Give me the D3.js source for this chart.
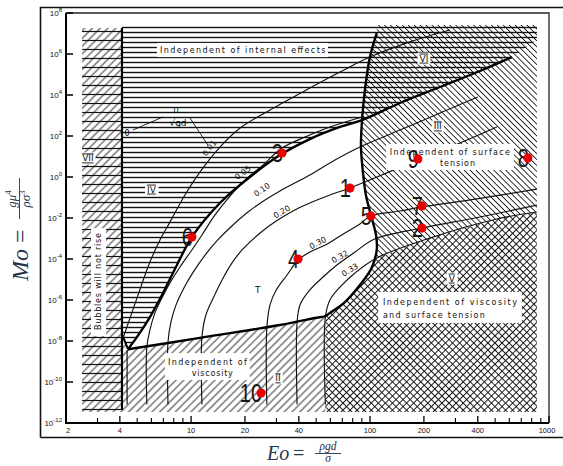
<!DOCTYPE html>
<html><head><meta charset="utf-8">
<script src="https://cdn.jsdelivr.net/npm/d3@7"></script>
<style>body{margin:0;background:#fff}svg{display:block}</style>
</head><body>
<script>
// ---------- axis ticks ----------
const xTicksMajor = [2,4,10,20,40,100,200,400,1000];
const xTicksMinor = [3,5,6,7,8,9,30,50,60,70,80,90,300,500,600,700,800,900];
const yTickExponents = [8,6,4,2,0,-2,-4,-6,-8,-10,-12];

// ---------- measured points: Eo, log10(Mo) ----------
const pointIds   = ["1","2","3","4","5","6","7","8","9","10"];
const pointEo    = [77.2,195,32.2,39.6,101,10.1,195,762,185,24.6];
const pointLogMo = [-0.54,-2.49,1.17,-4.0,-1.90,-2.93,-1.41,0.93,0.88,-10.54];

// ---------- regime boundaries: [Eo, log10 Mo] ----------
const eo4Line  = [[4.11,7.27],[4.11,-11.37]];
const vStroke  = [[4.11,-7.66],[4.44,-8.40]];
const curveA   = [[4.44,-8.40],[4.99,-7.80],[5.89,-6.83],[6.97,-5.66],[8.34,-4.29],[10.1,-2.93],[14.5,-1.27],[21.3,0.0],[31.4,1.07],[46.1,1.85],[67.9,2.44],[90.2,2.78],[147,3.61],[246,4.39],[411,5.17],[620,5.85]];
const tBottom  = [[4.44,-8.40],[11.2,-7.85],[31.4,-7.22],[49.2,-6.88],[56.3,-6.78]];
const tRight   = [[59.7,-6.63],[72.4,-6.10],[87.8,-5.27],[102,-4.44],[109,-3.56],[108,-2.83],[101,-1.85],[94.8,-0.88],[91.6,0.10],[89.0,1.46],[90.2,2.78],[93.6,4.24],[99.8,5.85],[109,7.02]];

// ---------- contours of U/sqrt(gd) ----------
const c001Low = [[4.39,-11.1],[4.39,-8.44]];
const c001 = [[4.15,-7.90],[4.56,-6.88],[5.05,-5.76],[5.89,-4.15],[6.70,-3.07],[7.62,-2.20],[9.24,-0.88],[11.2,0.24],[14.5,1.46],[18.8,2.39],[27.6,3.27],[46.1,4.34],[67.9,5.12],[99.8,5.85],[167,6.59],[279,7.17]];
const c005 = [[5.66,-11.1],[5.66,-8.29],[5.89,-7.46],[6.28,-6.63],[6.87,-5.90],[7.62,-5.17],[8.67,-4.39],[10.1,-3.56],[11.5,-2.83],[13.6,-1.85],[16.5,-0.93],[20,-0.15],[24.9,0.54],[32.2,1.41],[43.3,1.95],[59.7,2.44],[90.2,2.93]];
const c010 = [[7.43,-11.1],[7.43,-8.05],[7.72,-7.07],[8.24,-6.24],[9.12,-5.41],[10.3,-4.63],[12.0,-3.80],[14.1,-3.07],[16.9,-2.39],[20.8,-1.71],[25.9,-1.12],[31.4,-0.68],[46.1,0.10],[63.7,0.83],[90.2,1.51],[147,2.29],[246,3.12],[400,3.90]];
const c020 = [[11.5,-11.1],[11.5,-7.80],[12.1,-6.73],[13.3,-5.90],[14.9,-5.02],[16.9,-4.20],[19.5,-3.51],[24.3,-2.73],[29.9,-2.15],[38.0,-1.61],[46.1,-1.27],[59.7,-0.88],[77.2,-0.54],[93.6,-0.24],[185,0.83],[318,1.66],[511,2.44]];
const c030 = [[26.5,-11.1],[26.5,-7.37],[27.6,-6.24],[29.9,-5.51],[34.4,-4.78],[39.6,-4.05],[46.1,-3.66],[56.3,-3.32],[72.4,-2.73],[87.8,-2.29],[101,-1.90],[147,-1.66],[195,-1.46],[395,-1.07],[856,-0.59]];
const c032 = [[39.1,-11.1],[39.1,-7.12],[40.6,-6.24],[46.1,-5.51],[54.6,-4.88],[65.3,-4.29],[82.4,-3.66],[106,-3.02],[195,-2.49],[411,-1.95],[856,-1.37]];
const c033 = [[56.3,-11.1],[56.3,-6.83],[59.7,-6.0],[67.9,-5.37],[82.4,-4.68],[109,-3.95],[216,-2.98],[511,-2.05],[856,-1.71]];

const contourLabels = ["0.01","0.05","0.10","0.20","0.30","0.32","0.33"];
const contourLabelPos = [[12.7,1.41],[19.5,0.20],[24.9,-0.63],[32.2,-1.71],[51.2,-3.22],[67.9,-3.90],[77.2,-4.54]];
const contourLabelAngle = [-52,-38,-35,-30,-28,-30,-32];

// ---------- region labels ----------
const romanLabels = ["VII","IV","VI","III","V","II"];
const romanPos = [[2.65,0.93],[6.0,-0.59],[200,5.80],[239,2.49],[286,-4.93],[30.6,-9.80]];

// text blocks: text, Eo left, Eo right, log10 Mo
const blockText  = ["Independent of internal effects","Independent of surface","tension","Independent of viscosity","and surface tension","Independent of","viscosity"];
const blockLeft  = [6.70,129,246,118,118,7.43,10.1];
const blockRight = [56.3,604,386,662,438,20.5,17.1];
const blockLogMo = [6.20,1.22,0.68,-6.10,-6.73,-9.02,-9.56];
// white boxes: Eo0, Eo1, logMo top, logMo bottom
const boxes = [[6.44,58.2,6.54,5.85],[123,637,1.61,0.34],[111,705,-5.61,-7.12],[7.15,21.3,-8.59,-9.90],[2.76,3.35,-2.49,-7.76]];

// ---------- drawing ----------
const W = 563, H = 466;
const svg = d3.select("body").append("svg").attr("width",W).attr("height",H);
const x = d3.scaleLog().domain([2,1000]).range([66,549]);
const y = d3.scaleLog().domain([1e-12,1e8]).range([423,13]);
const px = d => x(d[0]), py = d => y(Math.pow(10,d[1]));
const lin = d3.line().x(px).y(py);
const smooth = d3.line().x(px).y(py).curve(d3.curveCatmullRom.alpha(0.5));
const scanFont = "'DejaVu Sans', sans-serif";

// outer frame
svg.append("path").attr("d","M40.5,437.5V7.5H570M40.5,437.5H570").attr("fill","none").attr("stroke","#111").attr("stroke-width",1.6);

// patterns
const defs = svg.append("defs");
function hatch(id, angle, spacing, width){
  const p = defs.append("pattern").attr("id",id).attr("patternUnits","userSpaceOnUse")
    .attr("width",30).attr("height",spacing).attr("patternTransform",`rotate(${angle})`);
  p.append("line").attr("x1",0).attr("x2",30).attr("y1",spacing/2).attr("y2",spacing/2)
    .attr("stroke","#111").attr("stroke-width",width);
}
hatch("hz",0,5,1.4);
hatch("hz2",0,9,1.2);
hatch("fw",-45,5.5,0.9);
hatch("bk",45,4.2,0.85);
hatch("c1",-45,5,0.95);
hatch("c2",45,5,0.95);

const regionVII = [[2.46,7.27],[4.11,7.27],[4.11,-11.46],[2.46,-11.46]];
const regionIV  = [[4.11,7.41],[4.11,-7.66],...curveA,[856,6.68],[856,7.41]];
const regionII  = [[4.11,-11.46],[4.11,-7.66],...tBottom,[56.3,-11.46]];
const regionV   = [[56.3,-11.46],...tBottom.slice(4),...tRight.slice(0,4),...c033.slice(5),[856,-11.46]];
const regionIII = [[109,7.41],...tRight.slice(4).reverse(),...c033.slice(5),[856,7.41]];

const fills = [[regionVII,"fw"],[regionVII,"hz2"],[regionIV,"hz"],[regionII,"fw"],[regionV,"c1"],[regionV,"c2"],[regionIII,"bk"]];
fills.forEach(([poly,pat]) => svg.append("path").attr("d",lin(poly)+"Z").attr("fill",`url(#${pat})`).attr("stroke","none"));

// thin contour lines
[c001Low,c001,c005,c010,c020,c030,c032,c033].forEach(c =>
  svg.append("path").attr("d",smooth(c)).attr("fill","none").attr("stroke","#111").attr("stroke-width",1.15));
// thick boundaries
svg.append("path").attr("d",smooth(curveA)).attr("fill","none").attr("stroke","#000").attr("stroke-width",2.4);
svg.append("path").attr("d",smooth([...tBottom,...tRight])).attr("fill","none").attr("stroke","#000").attr("stroke-width",2.4);
svg.append("path").attr("d",lin(eo4Line)).attr("fill","none").attr("stroke","#000").attr("stroke-width",2.2);
svg.append("path").attr("d",lin(vStroke)).attr("fill","none").attr("stroke","#000").attr("stroke-width",2);

// U/sqrt(gd) annotation
const leaderLines = [[[4.73,2.29],[6.97,2.93]],[[9.86,2.88],[12.4,1.56]]];
leaderLines.forEach(l => svg.append("path").attr("d",lin(l)).attr("stroke","#111").attr("stroke-width",0.9));
svg.append("text").attr("x",px([4.39,2.15])).attr("y",py([4.39,2.15])+3).attr("font-family",scanFont).attr("font-size",8).attr("text-anchor","middle").text("0");
svg.append("text").attr("x",px([8.24,3.27])).attr("y",py([8.24,3.27])+3).attr("font-family",scanFont).attr("font-size",7).attr("text-anchor","middle").text("U");
svg.append("text").attr("x",px([8.45,2.63])).attr("y",py([8.45,2.63])+3).attr("font-family",scanFont).attr("font-size",9).attr("text-anchor","middle").text("√gd");

// white boxes
boxes.forEach(b => svg.append("rect").attr("x",x(b[0])).attr("y",y(10**b[2]))
  .attr("width",x(b[1])-x(b[0])).attr("height",y(10**b[3])-y(10**b[2])).attr("fill","#fff"));

// text blocks
blockText.forEach((t,i) => {
  const x0 = x(blockLeft[i]), x1 = x(blockRight[i]);
  svg.append("text").attr("x",x0).attr("y",y(10**blockLogMo[i])+3)
    .attr("textLength",x1-x0).attr("lengthAdjust","spacing")
    .attr("font-family",scanFont).attr("font-size",8).attr("fill","#111").text(t);
});
// rotated "Bubbles will not rise"
{
  const cx = x(3.02), y0 = y(10**-7.46), y1 = y(10**-2.73);
  svg.append("text").attr("transform",`translate(${cx+3},${y0}) rotate(-90)`)
    .attr("textLength",y0-y1).attr("lengthAdjust","spacing")
    .attr("font-family",scanFont).attr("font-size",8).attr("fill","#111").text("Bubbles will not rise");
}

// contour labels
contourLabels.forEach((t,i) => {
  svg.append("text").attr("transform",`translate(${px(contourLabelPos[i])},${py(contourLabelPos[i])}) rotate(${contourLabelAngle[i]})`)
    .attr("text-anchor","middle").attr("dominant-baseline","central")
    .attr("font-family",scanFont).attr("font-size",8).attr("fill","#111").text(t);
});

// roman labels with white backing
romanLabels.forEach((t,i) => {
  const g = svg.append("g").attr("transform",`translate(${px(romanPos[i])},${py(romanPos[i])})`);
  const txt = g.append("text").attr("text-anchor","middle").attr("y",3.5)
    .attr("font-family",scanFont).attr("font-size",9).attr("fill","#111")
    .style("text-decoration","underline overline").text(t);
  const bb = txt.node().getBBox();
  g.insert("rect","text").attr("x",bb.x-2).attr("y",bb.y-1).attr("width",bb.width+4).attr("height",bb.height+2).attr("fill","#fff");
});
svg.append("text").attr("x",x(23.6)).attr("y",y(10**-5.51)+3.5).attr("text-anchor","middle")
  .attr("font-family",scanFont).attr("font-size",9).attr("fill","#111").text("T");

// axes box
svg.append("path").attr("d",`M66,13V423H549`).attr("fill","none").attr("stroke","#000").attr("stroke-width",2);
svg.append("path").attr("d",`M66,13H549V423`).attr("fill","none").attr("stroke","#222").attr("stroke-width",1.3);

// y ticks & labels
yTickExponents.forEach(k => {
  const yy = y(10**k);
  svg.append("line").attr("x1",66).attr("x2",73).attr("y1",yy).attr("y2",yy).attr("stroke","#000").attr("stroke-width",1.5);
  const t = svg.append("text").attr("x",62).attr("y",yy+3).attr("text-anchor","end")
    .attr("font-family","'Liberation Sans', Arial, sans-serif").attr("font-size",8).attr("fill","#111");
  t.append("tspan").text("10");
  t.append("tspan").attr("dy",-4).attr("font-size",6).text(k);
});
// x ticks & labels
xTicksMajor.forEach(v => {
  svg.append("line").attr("x1",x(v)).attr("x2",x(v)).attr("y1",423).attr("y2",416).attr("stroke","#000").attr("stroke-width",1.3);
  svg.append("text").attr("x",x(v)+(v===2?2:v===1000?-2:0)).attr("y",433).attr("text-anchor","middle")
    .attr("font-family","'Liberation Sans', Arial, sans-serif").attr("font-size",7.5).attr("fill","#111").text(v);
});
xTicksMinor.forEach(v => {
  svg.append("line").attr("x1",x(v)).attr("x2",x(v)).attr("y1",423).attr("y2",418).attr("stroke","#000").attr("stroke-width",1.1);
});

// points and their numbers
pointIds.forEach((id,i) => {
  const cx = x(pointEo[i]), cy = y(10**pointLogMo[i]);
  svg.append("text").attr("transform",`translate(${cx+1},${cy+8.8}) scale(0.8,1)`).attr("text-anchor","end")
    .attr("font-family","'Liberation Sans', Arial, sans-serif").attr("font-size",25).attr("fill","#151515").text(id);
  svg.append("circle").attr("cx",cx).attr("cy",cy).attr("r",4.6).attr("fill","#e60000");
});

// axis titles
const titleColor = "#27324c", serif = "'Liberation Serif','DejaVu Serif',serif";
{
  const g = svg.append("g").attr("transform","translate(28,281) rotate(-90)").attr("fill",titleColor).attr("font-family",serif);
  g.append("text").attr("x",0).attr("y",0).attr("font-size",24).attr("font-style","italic").text("Mo");
  g.append("text").attr("x",38).attr("y",0).attr("font-size",24).text("=");
  const num = g.append("text").attr("x",82).attr("y",-12).attr("text-anchor","middle").attr("font-size",13).attr("font-style","italic");
  num.append("tspan").text("gμ"); num.append("tspan").attr("dy",-5).attr("font-size",9).attr("font-style","normal").text("4");
  g.append("line").attr("x1",62).attr("x2",103).attr("y1",-8.5).attr("y2",-8.5).attr("stroke",titleColor).attr("stroke-width",0.9);
  const den = g.append("text").attr("x",82).attr("y",2).attr("text-anchor","middle").attr("font-size",13).attr("font-style","italic");
  den.append("tspan").text("ρσ"); den.append("tspan").attr("dy",-5).attr("font-size",9).attr("font-style","normal").text("3");
}
{
  const g = svg.append("g").attr("fill",titleColor).attr("font-family",serif);
  g.append("text").attr("x",267).attr("y",460).attr("font-size",20).attr("font-style","italic").text("Eo");
  g.append("text").attr("x",293).attr("y",460).attr("font-size",20).text("=");
  g.append("text").attr("x",328).attr("y",450).attr("text-anchor","middle").attr("font-size",11.5).attr("font-style","italic").text("ρgd");
  g.append("line").attr("x1",315).attr("x2",341).attr("y1",453.5).attr("y2",453.5).attr("stroke",titleColor).attr("stroke-width",0.9);
  g.append("text").attr("x",328).attr("y",462).attr("text-anchor","middle").attr("font-size",11.5).attr("font-style","italic").text("σ");
}
</script>
</body></html>
